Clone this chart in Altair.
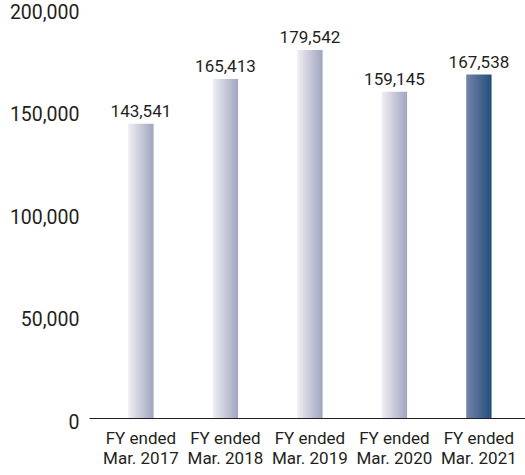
import altair as alt
import pandas as pd

years = ["FY ended\nMar. 2017", "FY ended\nMar. 2018", "FY ended\nMar. 2019",
         "FY ended\nMar. 2020", "FY ended\nMar. 2021"]
values = [143541, 165413, 179542, 159145, 167538]
latest = [False, False, False, False, True]
y_ticks = [0, 50000, 100000, 150000, 200000]

df = pd.DataFrame({"year": years, "value": values, "latest": latest})

ink = "#231f20"

x_enc = alt.X(
    "year:N", sort=None, title=None,
    scale=alt.Scale(paddingInner=0.7, paddingOuter=0.43, align=0.54),
)
y_enc = alt.Y(
    "value:Q", title=None,
    scale=alt.Scale(domain=[0, 200000], nice=False),
    axis=alt.Axis(values=y_ticks, labelExpr="format(datum.value, ',')"),
)

# horizontal gradients: grey for earlier years, blue for the latest year
grey_grad = alt.Gradient(gradient="linear", x1=0, x2=1, y1=0, y2=0, stops=[
    alt.GradientStop(color="#efeff4", offset=0),
    alt.GradientStop(color="#a0a4be", offset=1),
])
blue_grad = alt.Gradient(gradient="linear", x1=0, x2=1, y1=0, y2=0, stops=[
    alt.GradientStop(color="#7484a8", offset=0),
    alt.GradientStop(color="#234e7b", offset=1),
])

base = alt.Chart(df).encode(x=x_enc, y=y_enc)

past_bars = base.transform_filter("!datum.latest").mark_bar(color=grey_grad)
latest_bar = base.transform_filter("datum.latest").mark_bar(color=blue_grad)
labels = base.mark_text(baseline="alphabetic", dy=-7, font="Roboto",
                        fontSize=17, color=ink).encode(
    text=alt.Text("value:Q", format=",")
)

chart = (
    (past_bars + latest_bar + labels)
    .properties(
        width=436, height=410,
        autosize=alt.AutoSizeParams(type="none"),
        padding={"left": 89, "top": 8, "right": 0, "bottom": 57},
    )
    .configure(background="white")
    .configure_view(stroke=None)
    .configure_axisX(
        labelAngle=0, labelExpr="split(datum.label, '\\n')",
        labelFont="Roboto", labelFontSize=17, labelColor=ink,
        labelLineHeight=20, labelPadding=12, ticks=False,
        domainColor=ink, domainWidth=1, grid=False,
    )
    .configure_axisY(
        labelFont="Roboto", labelFontSize=19.5, labelColor=ink,
        labelPadding=10, labelOffset=4, ticks=False, domain=False,
        grid=False,
    )
)

chart.save("out.html", embed_options={"renderer": "svg", "actions": False})
